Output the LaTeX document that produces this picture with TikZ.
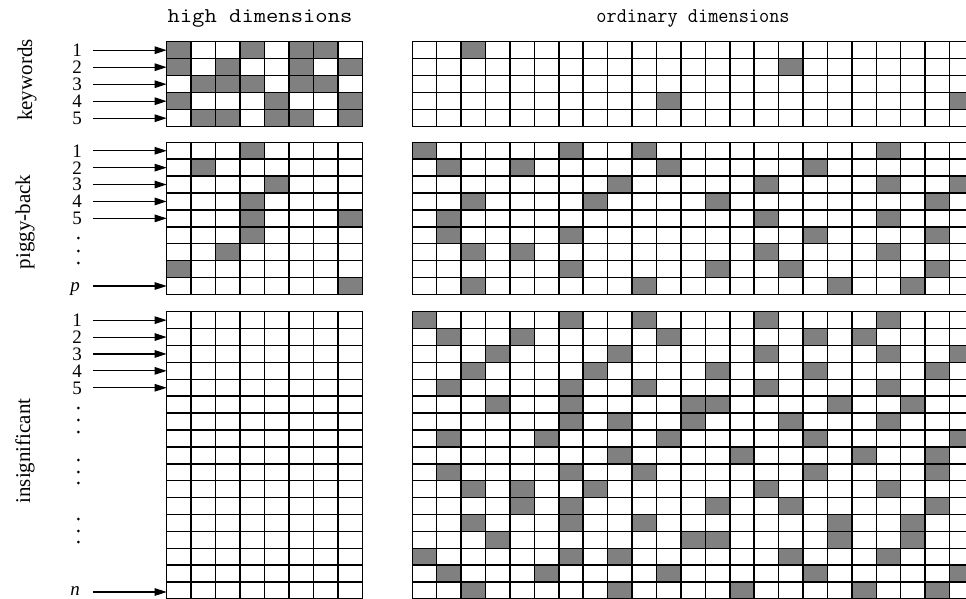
\documentclass[tikz,border=0pt]{standalone}
\usepackage{fontspec}
\usepackage{graphicx}
\setmainfont{Liberation Serif}
\usetikzlibrary{arrows.meta}
\definecolor{cellgray}{RGB}{128,128,128}
\newcommand\gridblock[6]{%
  \foreach \k in {0,...,#5} \draw[gridline] ({#1+\k*#3},#2) -- ({#1+\k*#3},{#2+#6*#4});
  \foreach \k in {0,...,#6} \draw[gridline] (#1,{#2+\k*#4}) -- ({#1+#5*#3},{#2+\k*#4});
}
\newcommand\fillcells[5]{%
  \foreach \c/\r in {#5} \fill[cellgray] ({#1+\c*#3},{#2+(\r-1)*#4}) rectangle ++(#3,#4);
}
\begin{document}
\begin{tikzpicture}[x=1pt,y=-1pt,
  gridline/.style={line width=1.5pt,black,line cap=rect},
  arr/.style={line width=1.1pt,-{Triangle[length=12pt,width=7.5pt]}},
  numlab/.style={font=\fontsize{19}{19}\selectfont,anchor=base,inner sep=0pt},
  sidelab/.style={font=\fontsize{21}{21}\selectfont,rotate=90,inner sep=0pt},
  head/.style={font=\ttfamily\fontsize{21}{21}\selectfont,anchor=base,inner sep=0pt}]
\useasboundingbox (0,0) rectangle (966,599);
\clip (0,0) rectangle (966,599);
\fill[white] (0,0) rectangle (966,599);

% headings
\node[head] (hhigh) at (260,23) {\scalebox{1.14}[1]{high dimensions}};
\node[head] (hord) at (693,23) {\scalebox{0.94}[1]{ordinary dimensions}};

% side labels
\node[sidelab] (lkey) at (27,80) {keywords};
\node[sidelab] (lpig) at (25,222) {piggy-back};
\node[sidelab] (lins) at (25,451) {insignificant};

% ---------- filled cells ----------
\fillcells{166.7}{41.7}{24.5}{17}{0/1,3/1,5/1,6/1, 0/2,2/2,5/2,7/2, 1/3,2/3,3/3,5/3,6/3, 0/4,4/4,7/4, 1/5,2/5,4/5,5/5,7/5}
\fillcells{166.7}{142.3}{24.5}{16.9}{3/1,1/2,4/3,3/4,3/5,7/5,3/6,2/7,0/8,7/9}
\fillcells{412.3}{41.7}{24.42}{17}{2/1,15/2,10/4,22/4}
\fillcells{412.3}{142.3}{24.42}{16.9}{0/1,6/1,9/1,19/1, 1/2,4/2,10/2,16/2, 8/3,14/3,19/3,22/3, 2/4,7/4,12/4,21/4, 1/5,14/5,19/5, 1/6,6/6,16/6,21/6, 2/7,4/7,14/7,19/7, 6/8,12/8,15/8,21/8, 2/9,9/9,17/9,20/9}
\fillcells{412.3}{311.7}{24.42}{16.9}{0/1,6/1,9/1,14/1,19/1, 1/2,4/2,10/2,16/2,18/2, 3/3,8/3,14/3,19/3,22/3, 2/4,7/4,12/4,16/4,21/4, 1/5,6/5,9/5,14/5,19/5, 3/6,6/6,11/6,12/6,17/6,20/6, 6/7,8/7,11/7,15/7,19/7, 1/8,5/8,10/8,16/8,22/8, 8/9,13/9,18/9,21/9, 1/10,6/10,9/10,16/10,21/10, 2/11,4/11,7/11,14/11,19/11, 4/12,6/12,12/12,15/12,21/12, 2/13,6/13,9/13,17/13,20/13, 3/14,11/14,12/14,17/14,20/14, 0/15,6/15,8/15,15/15,19/15, 1/16,5/16,10/16,16/16,22/16, 2/17,8/17,13/17,18/17,21/17}

% ---------- grids ----------
\gridblock{166.7}{41.7}{24.5}{17}{8}{5}
\gridblock{166.7}{142.3}{24.5}{16.9}{8}{9}
\gridblock{166.7}{311.7}{24.5}{16.9}{8}{17}
\gridblock{412.3}{41.7}{24.42}{17}{23}{5}
\gridblock{412.3}{142.3}{24.42}{16.9}{23}{9}
\gridblock{412.3}{311.7}{24.42}{16.9}{23}{17}

% ---------- row labels and arrows ----------
\foreach \i in {1,...,5} {
  \node[numlab] (kn\i) at (77,{41.7+(\i-0.5)*17+6.4}) {\i};
  \coordinate (ks\i) at (93,{41.7+(\i-0.5)*17});
  \coordinate (ke\i) at (166.7,{41.7+(\i-0.5)*17});
  \draw[arr] (ks\i) -- (ke\i);
  \node[numlab] (pn\i) at (77,{142.3+(\i-0.5)*16.9+6.4}) {\i};
  \coordinate (ps\i) at (93,{142.3+(\i-0.5)*16.9});
  \coordinate (pe\i) at (166.7,{142.3+(\i-0.5)*16.9});
  \draw[arr] (ps\i) -- (pe\i);
  \node[numlab] (in\i) at (77,{311.7+(\i-0.5)*16.9+6.4}) {\i};
  \coordinate (is\i) at (93,{311.7+(\i-0.5)*16.9});
  \coordinate (ie\i) at (166.7,{311.7+(\i-0.5)*16.9});
  \draw[arr] (is\i) -- (ie\i);
}
\node[numlab] (pp) at (75,291) {\itshape p};
\coordinate (psp) at (93,286);
\coordinate (pep) at (166.7,286);
\draw[arr] (psp) -- (pep);
\node[numlab] (nn) at (75,595.5) {\itshape n};
\coordinate (isn) at (93,592);
\coordinate (ien) at (166.7,592);
\draw[arr] (isn) -- (ien);

\foreach \y in {238,251,263,408,420,432,460,472,483,519,531,542}
  \fill (78.3,\y) circle (1.5);
\end{tikzpicture}
\end{document}
